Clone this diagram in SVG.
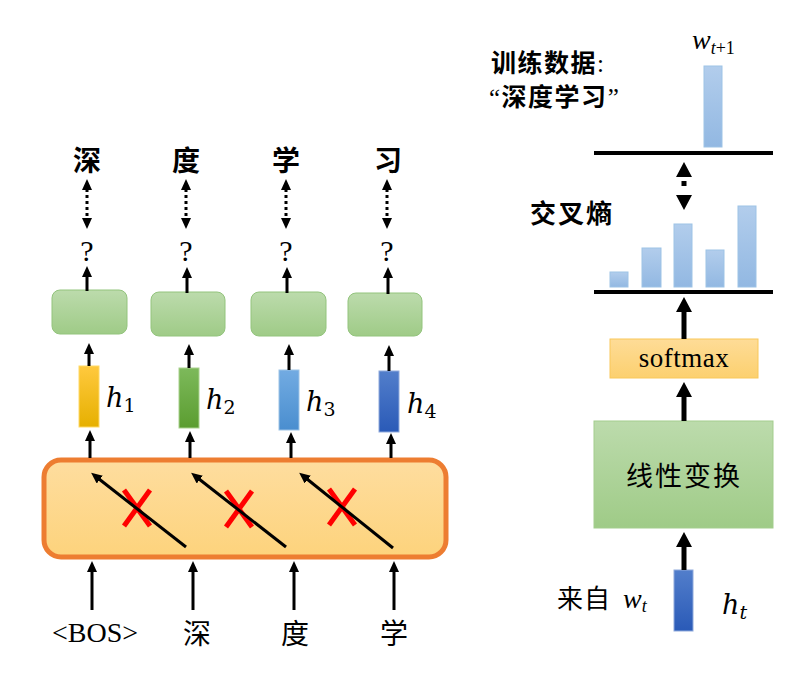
<svg xmlns="http://www.w3.org/2000/svg" width="792" height="680" viewBox="0 0 792 680">
<defs>
<linearGradient id="gGreen" x1="0" y1="0" x2="0" y2="1"><stop offset="0" stop-color="#bcdbac"/><stop offset="1" stop-color="#9fcb87"/></linearGradient>
<linearGradient id="gOrange" x1="0" y1="0" x2="0" y2="1"><stop offset="0" stop-color="#fedd9f"/><stop offset="1" stop-color="#fdd37c"/></linearGradient>
<linearGradient id="gSoft" x1="0" y1="0" x2="0" y2="1"><stop offset="0" stop-color="#fedc97"/><stop offset="1" stop-color="#fcd06f"/></linearGradient>
<linearGradient id="gY" x1="0" y1="0" x2="0" y2="1"><stop offset="0" stop-color="#ffc93e"/><stop offset="1" stop-color="#e6b000"/></linearGradient>
<linearGradient id="gG" x1="0" y1="0" x2="0" y2="1"><stop offset="0" stop-color="#7db95b"/><stop offset="1" stop-color="#5b9d30"/></linearGradient>
<linearGradient id="gLB" x1="0" y1="0" x2="0" y2="1"><stop offset="0" stop-color="#72abe2"/><stop offset="1" stop-color="#4a8ecf"/></linearGradient>
<linearGradient id="gB" x1="0" y1="0" x2="0" y2="1"><stop offset="0" stop-color="#527ecb"/><stop offset="1" stop-color="#2a5ab7"/></linearGradient>
<linearGradient id="gBar" x1="0" y1="0" x2="0" y2="1"><stop offset="0" stop-color="#b2cdec"/><stop offset="1" stop-color="#92b8e2"/></linearGradient>
<marker id="ah" markerUnits="userSpaceOnUse" markerWidth="11" markerHeight="10" viewBox="0 0 11 10" refX="1" refY="5" orient="auto-start-reverse"><path d="M0,0 L11,5 L0,10 z" fill="#000"/></marker>
<marker id="ahB" markerUnits="userSpaceOnUse" markerWidth="15" markerHeight="16" viewBox="0 0 15 16" refX="1" refY="8" orient="auto-start-reverse"><path d="M0,0 L15,8 L0,16 z" fill="#000"/></marker>
</defs>
<style>
.cjk{font-family:"Noto Sans CJK SC","Noto Sans CJK JP",sans-serif;fill:#000}
.b{font-weight:bold}
.ser{font-family:"Liberation Serif","Times New Roman",serif;fill:#000}
.hm{font-family:"DejaVu Serif","Liberation Serif",serif;font-style:italic;fill:#000}
.it{font-style:italic}
.a{stroke:#000;stroke-width:3;fill:none;marker-end:url(#ah)}
.ad{stroke:#000;stroke-width:3;fill:none;stroke-dasharray:3 3;marker-start:url(#ah);marker-end:url(#ah)}
.aB{stroke:#000;stroke-width:5;fill:none;marker-end:url(#ahB)}
.box{fill:url(#gGreen);stroke:#93c47d;stroke-width:1}
.bar{fill:url(#gBar);stroke:#9dc3e6;stroke-width:1}
.x{stroke:#ff0000;stroke-width:5}
.hl{stroke:#000;stroke-width:4}
</style>

<g id="rnn">
<rect x="44" y="460" width="402" height="97" rx="17" fill="url(#gOrange)" stroke="#ed7d31" stroke-width="5"/>
</g>

<g id="out-boxes">
<rect x="52" y="290" width="75" height="44" rx="8" class="box"/>
<rect x="151" y="292" width="74" height="44" rx="8" class="box"/>
<rect x="251" y="292" width="75" height="44" rx="8" class="box"/>
<rect x="348" y="293" width="74" height="43" rx="8" class="box"/>
</g>

<g id="hidden">
<rect x="79" y="366" width="20" height="61" fill="url(#gY)" stroke="#ffd966" stroke-width="1"/>
<rect x="179" y="368" width="20" height="60" fill="url(#gG)" stroke="#a9d18e" stroke-width="1"/>
<rect x="279" y="370" width="20" height="60" fill="url(#gLB)" stroke="#9dc3e6" stroke-width="1"/>
<rect x="379" y="371" width="20" height="61" fill="url(#gB)" stroke="#8faadc" stroke-width="1"/>
<text class="hm" x="106" y="407" font-size="27">h<tspan font-style="normal" font-size="19" dy="5">1</tspan></text>
<text class="hm" x="206" y="409" font-size="27">h<tspan font-style="normal" font-size="19" dy="5">2</tspan></text>
<text class="hm" x="306" y="411" font-size="27">h<tspan font-style="normal" font-size="19" dy="5">3</tspan></text>
<text class="hm" x="407" y="413" font-size="27">h<tspan font-style="normal" font-size="19" dy="5">4</tspan></text>
</g>

<g id="top-words">
<text class="cjk b" x="87" y="171" font-size="28" text-anchor="middle">深</text>
<text class="cjk b" x="186" y="171" font-size="28" text-anchor="middle">度</text>
<text class="cjk b" x="286" y="171" font-size="28" text-anchor="middle">学</text>
<text class="cjk b" x="388" y="171" font-size="28" text-anchor="middle">习</text>
<text class="ser" x="87" y="261" font-size="30" text-anchor="middle">?</text>
<text class="ser" x="186" y="261" font-size="30" text-anchor="middle">?</text>
<text class="ser" x="286" y="261" font-size="30" text-anchor="middle">?</text>
<text class="ser" x="387" y="261" font-size="30" text-anchor="middle">?</text>
</g>

<g id="inputs">
<text class="ser" x="95" y="642" font-size="28" text-anchor="middle">&lt;BOS&gt;</text>
<text class="cjk" x="197" y="644" font-size="28" text-anchor="middle">深</text>
<text class="cjk" x="295" y="644" font-size="28" text-anchor="middle">度</text>
<text class="cjk" x="394" y="644" font-size="28" text-anchor="middle">学</text>
</g>

<g id="blocked">
<line x1="124" y1="490" x2="150" y2="526" class="x"/><line x1="150" y1="490" x2="124" y2="526" class="x"/>
<line x1="226" y1="491" x2="252" y2="527" class="x"/><line x1="252" y1="491" x2="226" y2="527" class="x"/>
<line x1="329" y1="489" x2="355" y2="525" class="x"/><line x1="355" y1="489" x2="329" y2="525" class="x"/>
</g>

<g id="training-label">
<text class="cjk b" x="491" y="72" font-size="25" letter-spacing="1.5">训练数据<tspan class="ser" font-weight="normal">:</tspan></text>
<text class="cjk b" x="489" y="106" font-size="25" letter-spacing="1.5"><tspan class="ser" font-weight="normal">“</tspan>深度学习<tspan class="ser" font-weight="normal">”</tspan></text>
<text class="ser it" x="692" y="49" font-size="28">w<tspan font-size="18" dy="5">t</tspan><tspan font-style="normal" font-size="18">+1</tspan></text>
</g>

<g id="target-dist">
<rect x="704" y="66" width="18" height="81" class="bar"/>
<line x1="594" y1="153" x2="773" y2="153" class="hl"/>
</g>

<g id="cross-entropy">
<text class="cjk b" x="530" y="223" font-size="26" letter-spacing="2">交叉熵</text>
</g>

<g id="pred-dist">
<rect x="610" y="272" width="18" height="15" class="bar"/>
<rect x="642" y="248" width="19" height="39" class="bar"/>
<rect x="674" y="224" width="18" height="63" class="bar"/>
<rect x="706" y="250" width="18" height="37" class="bar"/>
<rect x="738" y="206" width="18" height="81" class="bar"/>
<line x1="594" y1="292" x2="773" y2="292" class="hl"/>
</g>

<g id="softmax">
<rect x="610" y="339" width="148" height="39" fill="url(#gSoft)" stroke="#f9c85a" stroke-width="1"/>
<text class="ser" x="684" y="367" font-size="27" text-anchor="middle" letter-spacing="0.5">softmax</text>
</g>

<g id="linear">
<rect x="594" y="421" width="179" height="107" fill="url(#gGreen)" stroke="#a3cd8d" stroke-width="1"/>
<text class="cjk" x="684" y="486" font-size="27" text-anchor="middle" letter-spacing="2">线性变换</text>
</g>

<g id="ht">
<rect x="674" y="570" width="19" height="61" fill="url(#gB)" stroke="#8faadc" stroke-width="1"/>
<text class="cjk" x="557" y="608" font-size="26" letter-spacing="1">来自</text>
<text class="ser it" x="623" y="608" font-size="28">w<tspan font-size="18" dy="4">t</tspan></text>
<text class="hm" x="722" y="614" font-size="27">h<tspan font-size="19" dy="5">t</tspan></text>
</g>

<g id="connectors">
<line x1="87" y1="189" x2="87" y2="219" class="ad"/>
<line x1="186" y1="189" x2="186" y2="219" class="ad"/>
<line x1="286" y1="189" x2="286" y2="219" class="ad"/>
<line x1="387" y1="189" x2="387" y2="219" class="ad"/>
<line x1="87" y1="291" x2="87" y2="276" class="a"/>
<line x1="187" y1="293" x2="187" y2="277" class="a"/>
<line x1="287" y1="293" x2="287" y2="277" class="a"/>
<line x1="388" y1="294" x2="388" y2="277" class="a"/>
<line x1="89" y1="366" x2="89" y2="353" class="a"/>
<line x1="189" y1="368" x2="189" y2="354" class="a"/>
<line x1="289" y1="370" x2="289" y2="354" class="a"/>
<line x1="389" y1="371" x2="389" y2="355" class="a"/>
<line x1="90" y1="458" x2="90" y2="440" class="a"/>
<line x1="190" y1="458" x2="190" y2="441" class="a"/>
<line x1="291" y1="458" x2="291" y2="442" class="a"/>
<line x1="391" y1="458" x2="391" y2="443" class="a"/>
<line x1="92" y1="610" x2="92" y2="571" class="a"/>
<line x1="193" y1="610" x2="193" y2="571" class="a"/>
<line x1="294" y1="610" x2="294" y2="571" class="a"/>
<line x1="394" y1="610" x2="394" y2="571" class="a"/>
<line x1="186" y1="547" x2="99" y2="479" class="a" stroke-width="2.5"/>
<line x1="286" y1="547" x2="199" y2="479" class="a" stroke-width="2.5"/>
<line x1="393" y1="548" x2="307" y2="479" class="a" stroke-width="2.5"/>
<line x1="684" y1="176" x2="684" y2="196" stroke="#000" stroke-width="5" stroke-dasharray="0 5 5 20" marker-start="url(#ahB)" marker-end="url(#ahB)"/>
<line x1="684" y1="339" x2="684" y2="311" class="aB"/>
<line x1="684" y1="421" x2="684" y2="396" class="aB"/>
<line x1="684" y1="570" x2="684" y2="546" class="aB"/>
</g>
</svg>
